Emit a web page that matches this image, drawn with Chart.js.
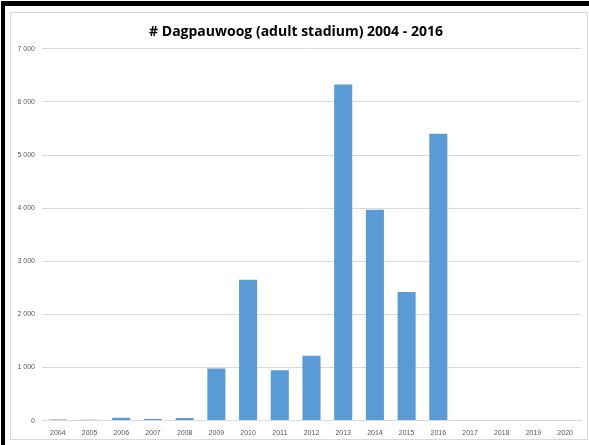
<!DOCTYPE html>
<html>
<head>
<meta charset="utf-8">
<script src="https://cdn.jsdelivr.net/npm/chart.js@4"></script>
<style>
  body { margin: 0; background: #fff; width: 589px; height: 445px; position: relative; overflow: hidden; }
  #frame { position: absolute; left: 1px; top: 1px; width: 600px; height: 460px; border-top: 5px solid #000; border-left: 4px solid #000; }
  #box { position: absolute; left: 10px; top: 12px; width: 576px; height: 426px; border: 1px solid #d9d9d9; }
  canvas { display: block; }
</style>
</head>
<body>
<div id="frame"></div>
<div id="box"><canvas id="myChart" width="576" height="434"></canvas></div>
<script>
var years = ["2004", "2005", "2006", "2007", "2008", "2009", "2010", "2011", "2012",
             "2013", "2014", "2015", "2016", "2017", "2018", "2019", "2020"];
var counts = [20, 15, 55, 30, 50, 980, 2650, 950, 1220, 6330, 3970, 2420, 5400,
              null, null, null, null];
var yMax = 7000;
var yStep = 1000;

function spaced(v) {
    return String(v).replace(/\B(?=(\d{3})+(?!\d))/g, " ");
}

function drawChart() {
    var ctx = document.getElementById('myChart').getContext('2d');

    var myBarChart = new Chart(ctx, {
        type: 'bar',
        data: {
            labels: years,
            datasets: [{
                data: counts,
                backgroundColor: '#5b9bd5',
                barPercentage: 0.57,
                categoryPercentage: 1.0
            }]
        },
        options: {
            responsive: false,
            animation: false,
            layout: { padding: { left: 0, right: 6, top: 0, bottom: 2 } },
            plugins: {
                legend: { display: false },
                tooltip: { enabled: false },
                title: {
                    display: true,
                    text: '# Dagpauwoog (adult stadium) 2004 - 2016',
                    color: '#000',
                    font: { family: 'Open Sans', size: 14, weight: 'bold' },
                    padding: { top: 11, bottom: 8 }
                }
            },
            scales: {
                x: {
                    grid: { display: false, drawTicks: false },
                    border: { color: '#d9d9d9' },
                    ticks: {
                        color: '#595959',
                        font: { family: 'Liberation Sans', size: 7 },
                        maxRotation: 0,
                        autoSkip: false,
                        padding: 8
                    }
                },
                y: {
                    min: 0,
                    max: yMax,
                    border: { display: false },
                    grid: { color: '#d9d9d9', drawTicks: false },
                    ticks: {
                        stepSize: yStep,
                        color: '#595959',
                        font: { family: 'Liberation Sans', size: 7 },
                        padding: 7,
                        callback: function (v) { return spaced(v); }
                    },
                    afterFit: function (scale) { scale.width = 31; }
                }
            }
        }
    });
}

window.onload = drawChart;
</script>
</body>
</html>
